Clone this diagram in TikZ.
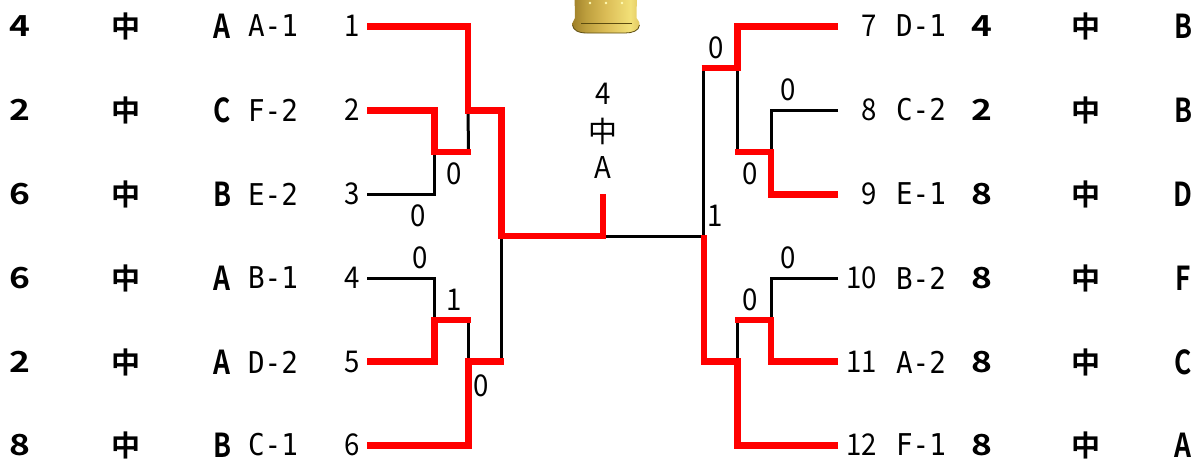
\documentclass[tikz,border=0pt]{standalone}
\usepackage{fontspec}
\setmainfont{Noto Sans CJK JP}
\newfontfamily\tagfont{DejaVu Sans Mono}[FakeStretch=0.92]
\newfontfamily\numfont{Noto Sans CJK JP}[FakeStretch=0.92]
\newfontfamily\boldnum{Noto Sans CJK JP Bold}[FakeStretch=1.22]
\newfontfamily\boldlet{Noto Sans CJK JP Bold}[FakeStretch=0.8]
\newfontfamily\boldcjk{Noto Sans CJK JP Bold}
\definecolor{wred}{RGB}{255,0,0}
\definecolor{golde}{RGB}{92,76,16}
\pgfdeclarehorizontalshading{crownshade}{100bp}{
  rgb(0bp)=(0.62,0.50,0.16);
  rgb(25bp)=(0.62,0.50,0.16);
  rgb(35bp)=(0.74,0.62,0.24);
  rgb(50bp)=(0.86,0.74,0.34);
  rgb(68bp)=(0.95,0.88,0.47);
  rgb(75bp)=(0.88,0.78,0.38);
  rgb(100bp)=(0.88,0.78,0.38)}
\tikzset{
  x=1pt,y=-1pt,
  blk/.style={draw=black,line width=3pt,line join=miter},
  rd/.style={draw=wred,line width=6.4pt,line join=miter},
  tagl/.style={inner sep=0pt,font=\fontsize{30}{30}\tagfont},
  lab/.style={inner sep=0pt,font=\fontsize{30}{30}\numfont},
  bnum/.style={inner sep=0pt,font=\fontsize{29}{30}\boldnum},
  bmid/.style={inner sep=0pt,font=\fontsize{29}{30}\boldcjk},
  blet/.style={inner sep=0pt,font=\fontsize{33}{33}\boldlet},
  cmid/.style={inner sep=0pt,font=\fontsize{29}{30}\selectfont},
}
\newcommand{\lrow}[6]{%
  \node[bnum] (s#1) at (20,#2) {#3};
  \node[bmid] (z#1) at (126,#2) {中};
  \node[blet] (g#1) at (222,#2) {#4};
  \node[tagl] (t#1) at (273,#2) {#5};
  \node[lab] (n#1) at (352,#2) {#6};
}
\newcommand{\rrow}[6]{%
  \node[lab,anchor=east] (n#1) at (877,#2) {#6};
  \node[tagl] (t#1) at (921,#2) {#5};
  \node[bnum] (s#1) at (982,#2) {#3};
  \node[bmid] (z#1) at (1086,#2) {中};
  \node[blet] (g#1) at (1183,#2) {#4};
}
\begin{document}
\begin{tikzpicture}
\useasboundingbox (0,0) rectangle (1195,461);
% crown
\begin{scope}
\clip (0,0) rectangle (1195,461);
\path[shading=crownshade] (574.5,-6) -- (637,-6) -- (636.5,18) .. controls (637,20) and (640,21) .. (639.5,25) .. controls (639,31) and (632,33) .. (625,33) -- (587,33) .. controls (578,33) and (573,30) .. (572.5,25) .. controls (572,21) and (575,20) .. (575,18) -- cycle;
\draw[golde,line width=.8pt] (572.5,25) .. controls (573,30) and (578,33) .. (587,33) -- (625,33) .. controls (632,33) and (639,31) .. (639.5,25);
\draw[golde,line width=.8pt] (581,23.5) -- (632,23.5);
\foreach \cx in {590,606,622}\fill[white!70!yellow] (\cx,3) circle (1.3pt);
\end{scope}
% rows
\lrow{1}{26}{4}{A}{A-1}{1}
\lrow{2}{110}{2}{C}{F-2}{2}
\lrow{3}{194}{6}{B}{E-2}{3}
\lrow{4}{278}{6}{A}{B-1}{4}
\lrow{5}{362}{2}{A}{D-2}{5}
\lrow{6}{445}{8}{B}{C-1}{6}
\rrow{7}{26}{4}{B}{D-1}{7}
\rrow{8}{110}{2}{B}{C-2}{8}
\rrow{9}{194}{8}{D}{E-1}{9}
\rrow{10}{278}{8}{F}{B-2}{10}
\rrow{11}{362}{8}{C}{A-2}{11}
\rrow{12}{445}{8}{A}{F-1}{12}
% champion
\node[lab] (c4) at (603,94) {4};
\node[cmid] (cz) at (603,131) {中};
\node[lab] (cA) at (603,168) {A};
% scores
\node[lab] (a) at (454,174) {0};
\node[lab] (b) at (418,216) {0};
\node[lab] (c) at (420,258) {0};
\node[lab] (d) at (454,300) {1};
\node[lab] (e) at (481,386) {0};
\node[lab] (f) at (716,48) {0};
\node[lab] (g) at (788,90) {0};
\node[lab] (h) at (750,174) {0};
\node[lab] (i) at (715,216) {1};
\node[lab] (j) at (788,258) {0};
\node[lab] (k) at (750,300) {0};
% bracket ends and junctions
\coordinate (e1) at (367,26.3);
\coordinate (e2) at (367,110.3);
\coordinate (e3) at (367,194.3);
\coordinate (e4) at (367,278.3);
\coordinate (e5) at (367,361.5);
\coordinate (e6) at (367,445.5);
\coordinate (e7) at (838,26.3);
\coordinate (e8) at (838,110.3);
\coordinate (e9) at (838,194.3);
\coordinate (e10) at (838,278.3);
\coordinate (e11) at (838,361.5);
\coordinate (e12) at (838,445.5);
\coordinate (top) at (603,194);
\coordinate (ml) at (603,236);
\coordinate (mr) at (704,236);
\coordinate (la) at (468,110.3);
\coordinate (lb) at (468.5,152);
\coordinate (lc) at (434.5,152);
\coordinate (ld) at (501.5,236);
\coordinate (le) at (434.5,320);
\coordinate (lf) at (468.5,320);
\coordinate (lg) at (468.5,361.5);
\coordinate (lh) at (501.5,361.5);
\coordinate (ra) at (703.5,68);
\coordinate (rb) at (737.5,68);
\coordinate (rc) at (737.5,152);
\coordinate (rd) at (771,152);
\coordinate (re) at (737.5,320);
\coordinate (rf) at (771,320);
\coordinate (rg) at (737.5,361.5);
\coordinate (rh) at (704,361.5);
% black lines
\draw[blk] (e3) -| (lc);
\draw[blk] (e4) -| (le);
\draw[blk] (la) -- (lb);
\draw[blk] (lf) -- (lg);
\draw[blk] (ld) -- (lh);
\draw[blk] (ml) -- (mr);
\draw[blk] (ra) -- (703.5,236);
\draw[blk] (rb) -- (rc);
\draw[blk] (e8) -| (rd);
\draw[blk] (e10) -| (rf);
\draw[blk] (re) -- (rg);
% red lines
\draw[rd] (e1) -| (la) -- (501.5,110.3) -- (ld) -- (ml) -- (top);
\draw[rd] (e2) -| (lc) -- (470.5,152);
\draw[rd] (e5) -| (le) -- (470.5,320);
\draw[rd] (e6) -| (lg) -- (504,361.5);
\draw[rd] (e7) -| (rb) -- (ra) ++(-2,0) -- (ra);
\draw[rd] (e9) -| (rd) -- (735,152);
\draw[rd] (e11) -| (rf) -- (735,320);
\draw[rd] (e12) -| (rg) -- (rh);
\draw[rd] (mr) ++(0,-1) -- (704,365);
\end{tikzpicture}
\end{document}
